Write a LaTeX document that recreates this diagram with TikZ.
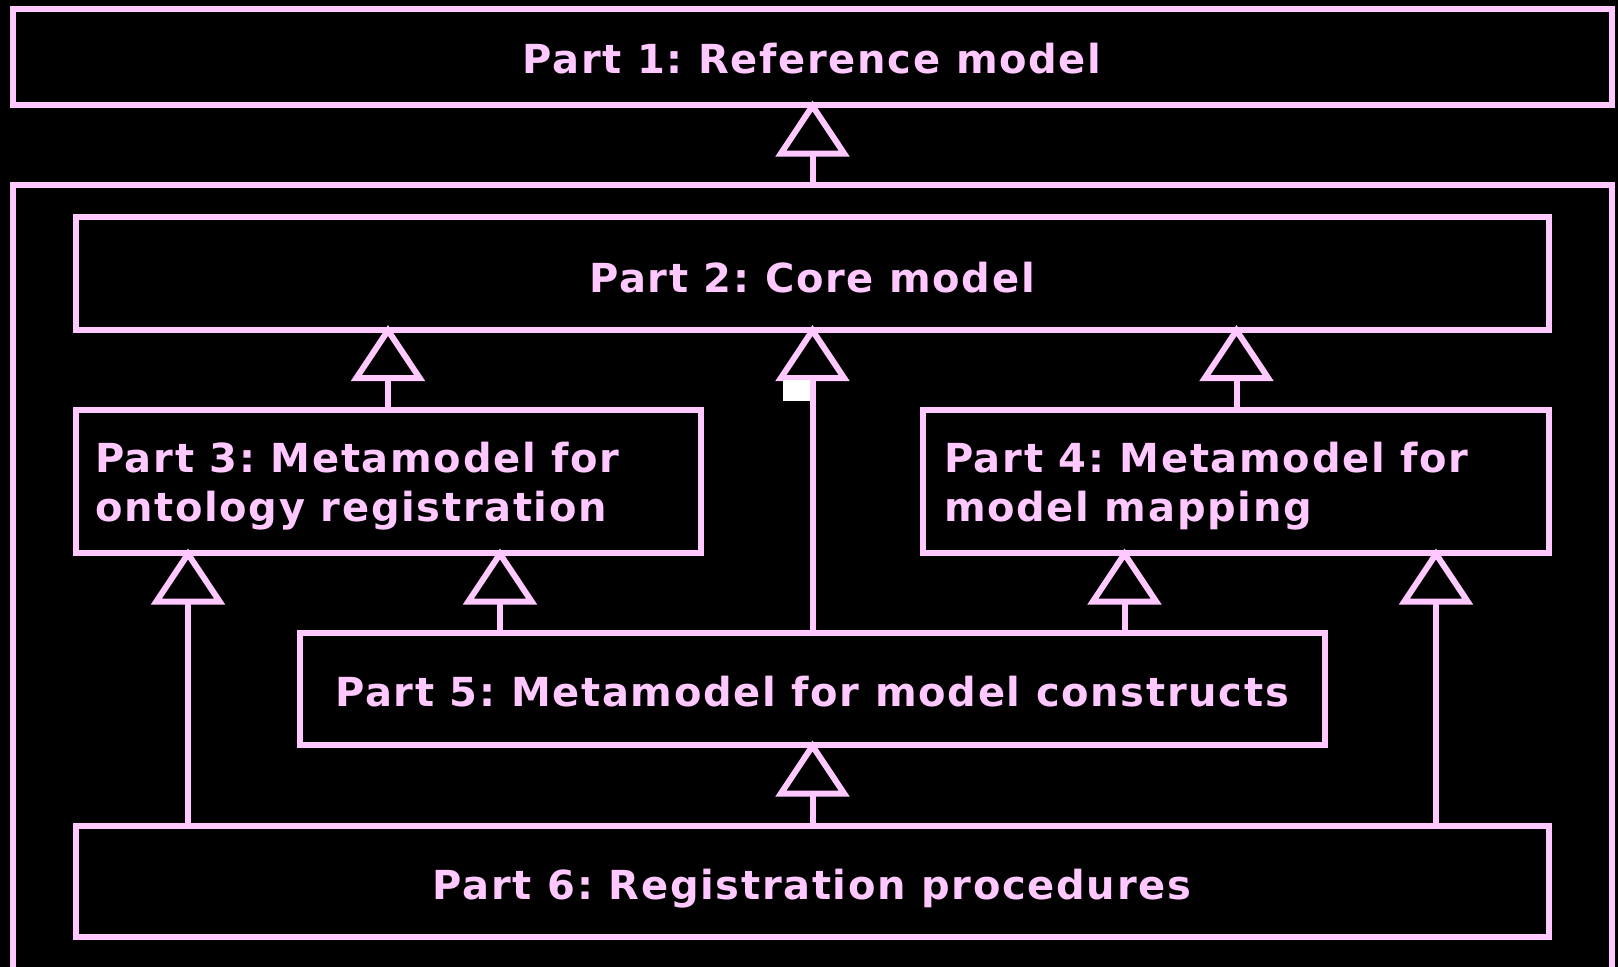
\documentclass[tikz,border=0pt]{standalone}
\usepackage{fontspec}
\setmainfont{DejaVu Sans}[LetterSpace=4.2]
\usetikzlibrary{arrows.meta}
\definecolor{pk}{RGB}{255,200,255}
\frenchspacing
\tikzset{
  box/.style={draw=pk, line width=6pt, rectangle, inner sep=0pt, outer sep=0pt, fill=none},
  lbl/.style={text=pk, inner sep=0pt, outer sep=0pt,
    font=\fontsize{40}{48.5}\selectfont\bfseries},
  gen/.style={draw=pk, line width=6pt, shorten >=-4.5pt,
    -{Triangle[length=56pt, width=73pt, fill=black, line width=6pt]}}
}
\begin{document}
\begin{tikzpicture}[x=1pt, y=-1pt]
  \fill[black] (0,0) rectangle (1618,967);
  \useasboundingbox (0,0) rectangle (1618,967);

  % boxes
  \node[box, minimum width=1599.5pt, minimum height=96pt]   (p1) at (812.25,57) {};
  \node[box, minimum width=1599.5pt, minimum height=785pt]  (fr) at (812.25,577.5) {};
  \node[box, minimum width=1473pt, minimum height=112.5pt]  (p2) at (812.5,273.25) {};
  \node[box, minimum width=625pt, minimum height=143pt]     (p3) at (388.5,481.5) {};
  \node[box, minimum width=626pt, minimum height=143pt]     (p4) at (1236,481.5) {};
  \node[box, minimum width=1025pt, minimum height=112pt]    (p5) at (812.5,689) {};
  \node[box, minimum width=1473pt, minimum height=111.5pt]  (p6) at (812.5,881.25) {};

  % labels
  \node[lbl, anchor=base] (t1) at (812,73.3) {Part 1: Reference model};
  \node[lbl, anchor=base] (t2) at (812,292) {Part 2: Core model};
  \node[lbl, anchor=base west] (t3a) at (95,472.7) {Part 3: Metamodel for};
  \node[lbl, anchor=base west] (t3b) at (95,521.2) {ontology registration};
  \node[lbl, anchor=base west] (t4a) at (944,472.7) {Part 4: Metamodel for};
  \node[lbl, anchor=base west] (t4b) at (944,521.2) {model mapping};
  \node[lbl, anchor=base] (t5) at (812,706) {Part 5: Metamodel for model constructs};
  \node[lbl, anchor=base] (t6) at (812,899) {Part 6: Registration procedures};

  % x positions of the generalisation lines
  \coordinate (xa) at (188,0);
  \coordinate (xb) at (388,0);
  \coordinate (xc) at (500,0);
  \coordinate (xm) at (812.5,0);
  \coordinate (xd) at (1124.5,0);
  \coordinate (xe) at (1236.5,0);
  \coordinate (xf) at (1436,0);

  % generalisations
  \draw[gen] (fr.north -| xm) -- (p1.south -| xm);
  \draw[gen] (p3.north -| xb) -- (p2.south -| xb);
  \draw[gen] (p5.north -| xm) -- (p2.south -| xm);
  \draw[gen] (p4.north -| xe) -- (p2.south -| xe);
  \draw[gen] (p6.north -| xa) -- (p3.south -| xa);
  \draw[gen] (p5.north -| xc) -- (p3.south -| xc);
  \draw[gen] (p5.north -| xd) -- (p4.south -| xd);
  \draw[gen] (p6.north -| xf) -- (p4.south -| xf);
  \draw[gen] (p6.north -| xm) -- (p5.south -| xm);

  % small white patch beside the central line
  \fill[white] (783,380) rectangle (810,401);
\end{tikzpicture}
\end{document}
